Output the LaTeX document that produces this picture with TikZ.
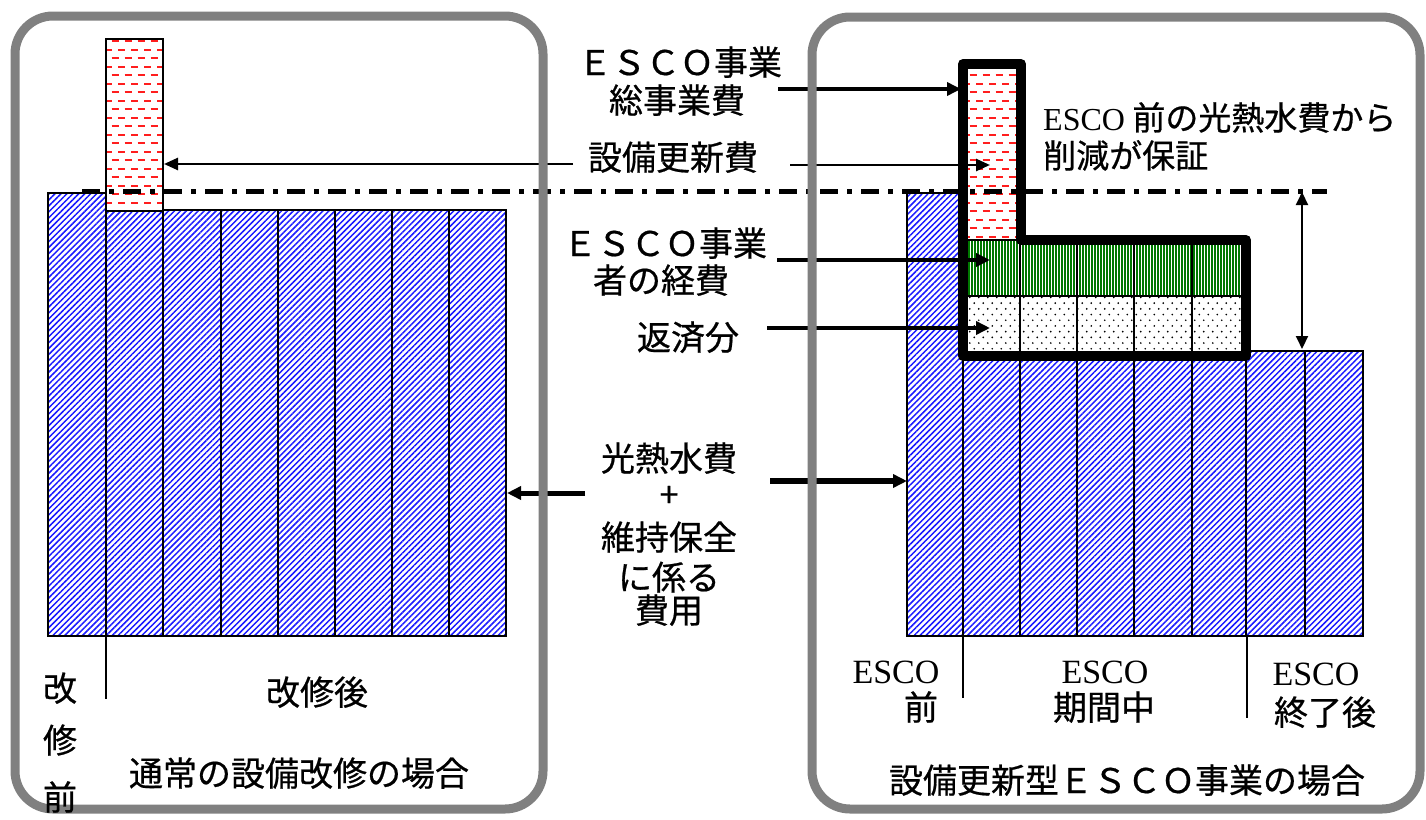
\documentclass[tikz,border=0pt]{standalone}
\usepackage{fontspec}
\newfontfamily\jpfont[FakeBold=0.6]{Noto Sans CJK JP}
\newfontfamily\tmsfont{Liberation Serif}
\usetikzlibrary{arrows.meta,patterns.meta}
\definecolor{hatchblue}{RGB}{25,25,255}
\definecolor{dashred}{RGB}{255,30,30}
\definecolor{stripegreen}{RGB}{0,120,0}
\definecolor{panelgray}{RGB}{128,128,128}

\tikzdeclarepattern{
  name=reddash,
  type=colored,
  bottom left={(-.1pt,-.1pt)},
  top right={(13.1pt,17.1pt)},
  tile size={(13pt,17pt)},
  code={
    \tikzset{x=1pt,y=1pt}
    \draw[dashred, line width=1.6pt] (1,4.25) -- (8,4.25);
    \draw[dashred, line width=1.6pt] (7.5,12.75) -- (13.1,12.75);
    \draw[dashred, line width=1.6pt] (-0.1,12.75) -- (1.5,12.75);
  }
}
\tikzdeclarepattern{
  name=dotgrid,
  type=colored,
  bottom left={(-.1pt,-.1pt)},
  top right={(9.1pt,11.5pt)},
  tile size={(9pt,11.4pt)},
  code={
    \tikzset{x=1pt,y=1pt}
    \fill[black] (2.25,2.85) circle[radius=0.95];
    \fill[black] (6.75,8.55) circle[radius=0.95];
  }
}

\tikzset{
  jptext/.style={font=\jpfont\fontsize{34}{40}\selectfont, inner sep=0pt, anchor=base},
  jpmid/.style={font=\jpfont\fontsize{33}{40}\selectfont, inner sep=0pt, anchor=base},
  romtext/.style={font=\tmsfont\fontsize{34}{40}\selectfont, inner sep=0pt, anchor=base},
  barline/.style={draw=black, line width=1.8pt},
  hatchbar/.style={barline, pattern={Lines[angle=45,distance=4.2pt,line width=1.5pt]}, pattern color=hatchblue},
  dashbar/.style={barline, pattern=reddash},
  greenbar/.style={barline, pattern={Lines[angle=90,distance=3pt,line width=1.5pt]}, pattern color=stripegreen},
  dotbar/.style={barline, pattern=dotgrid},
  sepline/.style={draw=black, line width=1.8pt},
  baseline5/.style={draw=black, line width=5pt, dash pattern=on 18pt off 9pt on 5pt off 9pt},
  outline/.style={draw=black, line width=10pt, line join=round},
  thickarrow/.style={draw=black, line width=4.5pt, -{Triangle[length=14pt,width=13pt]}},
  thinarrow/.style={draw=black, line width=2.5pt, -{Triangle[length=14pt,width=12pt]}},
  bothway/.style={draw=black, line width=2pt, {Triangle[length=13pt,width=12pt]}-{Triangle[length=13pt,width=12pt]}},
  panel/.style={draw=panelgray, line width=9pt, rounded corners=38pt}
}

\begin{document}
\begin{tikzpicture}[x=1pt,y=-1pt]
\fill[white] (0,0) rectangle (1426,819);
\useasboundingbox (0,0) rectangle (1426,819);

% ---- left side bars
\draw[hatchbar] (48,193) rectangle (106,636);
\draw[hatchbar] (106,211) rectangle (163,636);
\foreach \a/\b in {163/221,221/278,278/335,335/392,392/449,449/506}
  \draw[hatchbar] (\a,210) rectangle (\b,636);
\draw[dashbar] (106,39) rectangle (163,211);

% ---- right side bars
\draw[hatchbar] (907,193) rectangle (963,636);
\foreach \a/\b in {963/1020,1020/1077,1077/1134,1134/1192,1192/1246} {
  \draw[hatchbar] (\a,356) rectangle (\b,636);
  \draw[greenbar] (\a,240) rectangle (\b,296);
  \draw[dotbar] (\a,296) rectangle (\b,356);
}
\draw[hatchbar] (1246,351) rectangle (1305,636);
\draw[hatchbar] (1305,351) rectangle (1363,636);
\draw[dashbar] (963,64) rectangle (1021,240);
\draw[outline] (963,64) -- (1021,64) -- (1021,240) -- (1246,240) -- (1246,356) -- (963,356) -- cycle;

% ---- separators
\draw[sepline] (106,636) -- (106,699);
\draw[sepline] (963,636) -- (963,698);
\draw[sepline] (1247,636) -- (1247,718);

% ---- dash-dot reference line
\draw[baseline5] (82,191) -- (1327,191);

% ---- arrow end points
\coordinate (totS) at (778,89);   \coordinate (totE) at (961,89);
\coordinate (renLS) at (573,164); \coordinate (renLE) at (164,164);
\coordinate (renRS) at (790,165); \coordinate (renRE) at (990,165);
\coordinate (costS) at (777,260); \coordinate (costE) at (990,260);
\coordinate (repS) at (767,328);  \coordinate (repE) at (990,328);
\coordinate (utLS) at (585,493);  \coordinate (utLE) at (507,493);
\coordinate (utRS) at (770,481);  \coordinate (utRE) at (907,481);
\coordinate (gapT) at (1302,192); \coordinate (gapB) at (1302,349);

\draw[thickarrow] (totS) -- (totE);
\draw[thinarrow] (renLS) -- (renLE);
\draw[thinarrow] (renRS) -- (renRE);
\draw[thickarrow] (costS) -- (costE);
\draw[thickarrow] (repS) -- (repE);
\draw[thickarrow, line width=5pt] (utLS) -- (utLE);
\draw[thickarrow, line width=6pt] (utRS) -- (utRE);
\draw[bothway] (gapT) -- (gapB);

% ---- panels
\draw[panel] (15,16) rectangle (543,809);
\draw[panel] (812,17) rectangle (1420,809);

% ---- texts
\node[jptext] (t1a) at (680,75) {ＥＳＣＯ事業};
\node[jptext] (t1b) at (677,113) {総事業費};
\node[jptext] (t2) at (673,170) {設備更新費};
\node[jptext] (t3a) at (665,256) {ＥＳＣＯ事業};
\node[jptext] (t3b) at (661,293) {者の経費};
\node[jptext] (t4) at (688,350) {返済分};
\node[jptext] (t5a) at (669,471) {光熱水費};
\node[jptext] (t5b) at (669,507) {+};
\node[jptext] (t5c) at (669,550) {維持保全};
\node[jptext] (t5d) at (669,590) {に係る};
\node[jptext] (t5e) at (669,623) {費用};

\node[jpmid, anchor=base west] (t6a) at (1043,130) {{\tmsfont\fontsize{32}{40}\selectfont ESCO} 前の光熱水費から};
\node[jpmid, anchor=base west] (t6b) at (1043,168) {削減が保証};

\node[jptext] (k1) at (60,701) {改};
\node[jptext] (k2) at (60,753) {修};
\node[jptext] (k3) at (60,810) {前};
\node[jptext] (k4) at (317,705) {改修後};
\node[jptext] (k5) at (299,786) {通常の設備改修の場合};

\node[romtext] (e1a) at (896,683) {ESCO};
\node[jptext] (e1b) at (921,720) {前};
\node[romtext] (e2a) at (1105,683) {ESCO};
\node[jptext] (e2b) at (1104,720) {期間中};
\node[romtext] (e3a) at (1316,685) {ESCO};
\node[jptext] (e3b) at (1325,725) {終了後};
\node[jptext] (e4) at (1127,793) {設備更新型ＥＳＣＯ事業の場合};
\end{tikzpicture}
\end{document}
